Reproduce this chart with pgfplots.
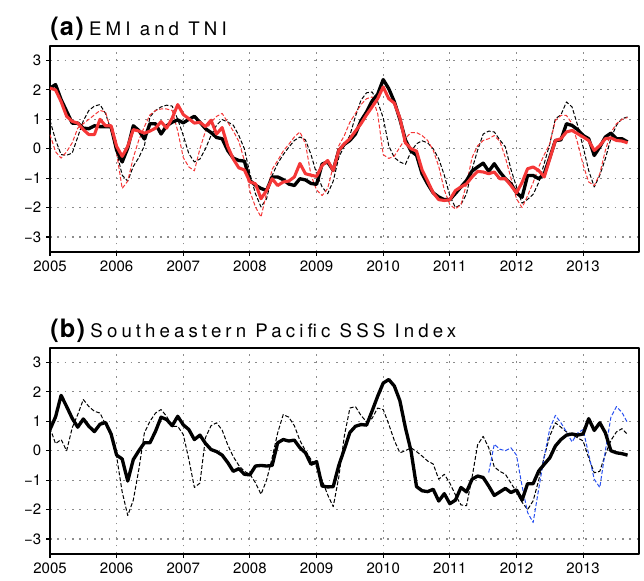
\documentclass[border=0pt]{standalone}
\usepackage{fontspec}
\setmainfont{TeX Gyre Heros}
\usepackage{pgfplots}
\pgfplotsset{compat=1.18}
\usepackage{pgfplotstable}

\definecolor{myred}{RGB}{245,55,55}
\definecolor{myblue}{RGB}{40,80,240}

\pgfplotstableread{
m a1 a2 a3 a4
0 2.06 2.06 0.96 0.48
1 2.18 2.00 0.30 -0.10
2 1.67 1.60 -0.20 -0.32
3 1.27 1.10 -0.22 -0.10
4 0.87 0.93 -0.15 0.20
5 0.87 0.87 0.40 0.70
6 0.70 0.65 0.95 0.85
7 0.68 0.48 1.30 1.00
8 0.78 0.48 1.45 1.15
9 0.75 1.00 1.50 1.30
10 0.75 0.78 1.20 1.25
11 0.75 0.78 0.62 0.60
12 -0.05 0.08 -0.10 -0.15
13 -0.45 -0.26 -0.90 -1.35
14 0.02 0.08 -1.10 -1.10
15 0.78 0.65 -0.60 -0.30
16 0.62 0.60 -0.30 0.30
17 0.33 0.53 0.10 0.75
18 0.85 0.60 1.08 1.15
19 0.85 0.70 1.30 1.30
20 0.50 0.92 1.42 1.35
21 0.78 0.70 1.48 1.35
22 0.90 1.04 1.45 1.30
23 0.98 1.50 1.00 0.60
24 0.88 1.16 0.45 -0.30
25 1.00 1.02 -0.17 -0.62
26 1.10 0.87 -0.45 -0.75
27 0.90 0.90 -0.35 0.00
28 0.68 0.75 0.00 0.60
29 0.55 0.97 0.45 0.90
30 0.38 0.50 0.80 1.10
31 0.34 0.72 0.99 1.20
32 -0.06 0.08 0.91 0.90
33 -0.32 -0.35 0.80 0.60
34 -0.40 -0.65 0.45 0.25
35 -0.42 -0.72 0.00 -0.40
36 -1.08 -1.13 -0.85 -1.45
37 -1.24 -1.19 -1.53 -1.98
38 -1.35 -1.70 -1.98 -2.32
39 -1.42 -1.42 -1.70 -1.50
40 -0.96 -1.02 -0.91 -0.70
41 -0.96 -1.25 -0.50 -0.40
42 -1.05 -1.13 -0.20 -0.08
43 -1.20 -1.10 0.05 0.15
44 -1.25 -0.96 0.28 0.40
45 -1.02 -0.50 0.40 0.57
46 -1.06 -0.85 0.30 0.17
47 -1.18 -0.90 -0.20 -0.90
48 -1.21 -0.94 -0.85 -1.40
49 -0.52 -0.57 -1.30 -1.59
50 -0.45 -0.40 -1.53 -1.35
51 -0.74 -0.74 -1.10 -0.60
52 -0.06 -0.06 -0.30 0.10
53 0.15 0.17 0.10 0.45
54 0.28 0.34 0.45 0.90
55 0.50 0.60 1.10 1.20
56 0.95 0.85 1.65 1.50
57 1.25 1.15 1.90 1.70
58 1.62 1.42 1.93 1.76
59 1.85 1.70 1.60 1.20
60 2.35 2.10 1.05 -0.20
61 2.04 1.70 0.10 -0.33
62 1.60 1.55 -0.30 -0.25
63 1.00 1.05 -0.45 0.05
64 0.30 0.20 -0.53 0.35
65 -0.08 0.00 -0.10 0.55
66 -0.22 -0.08 0.17 0.55
67 -0.85 -0.72 0.27 0.45
68 -1.20 -1.10 0.20 0.28
69 -1.50 -1.50 0.00 -0.05
70 -1.64 -1.73 -0.34 -0.60
71 -1.73 -1.76 -0.90 -1.40
72 -1.73 -1.73 -1.60 -1.90
73 -1.52 -1.42 -2.00 -2.05
74 -1.30 -1.30 -1.90 -1.90
75 -1.08 -1.19 -1.53 -1.20
76 -0.76 -0.96 -0.70 -0.30
77 -0.62 -0.77 -0.05 0.10
78 -0.49 -0.79 0.50 0.28
79 -0.77 -0.85 0.60 0.34
80 -0.51 -0.79 0.57 0.45
81 -0.79 -1.02 0.30 0.25
82 -1.02 -1.02 0.06 -0.30
83 -1.19 -1.25 -0.70 -1.00
84 -1.50 -1.50 -1.30 -1.70
85 -1.65 -1.15 -1.85 -2.00
86 -0.91 -0.68 -1.72 -1.60
87 -0.91 -0.62 -1.55 -1.15
88 -1.02 -0.74 -1.15 -0.62
89 -0.85 -0.96 -0.50 -0.20
90 -0.30 -0.34 0.17 0.17
91 0.28 0.28 1.02 0.96
92 0.30 0.34 1.15 1.13
93 0.85 0.57 1.59 1.13
94 0.79 0.62 1.42 0.85
95 0.65 0.51 0.80 0.20
96 0.45 0.40 0.06 -0.55
97 0.34 0.28 -0.74 -1.13
98 -0.23 -0.06 -1.30 -1.25
99 0.06 0.11 -0.90 -0.85
100 0.40 0.34 -0.34 -0.06
101 0.53 0.37 0.35 0.55
102 0.34 0.28 0.80 0.85
103 0.34 0.26 1.02 1.00
104 0.23 0.20 1.08 1.06
}\tabA

\pgfplotstableread{
m b1 b2 b3
0 0.72 0.78 nan
1 1.15 0.24 nan
2 1.88 0.38 nan
3 1.50 0.00 nan
4 1.10 0.78 nan
5 0.80 1.23 nan
6 1.08 1.74 nan
7 0.83 1.50 nan
8 0.65 1.34 nan
9 0.90 1.28 nan
10 0.96 0.90 nan
11 0.57 0.49 nan
12 -0.15 -0.20 nan
13 -0.28 -1.40 nan
14 -1.03 -2.20 nan
15 -0.30 -1.68 nan
16 0.00 -0.63 nan
17 0.27 0.61 nan
18 0.27 1.00 nan
19 0.66 1.28 nan
20 1.14 1.40 nan
21 1.06 1.17 nan
22 0.85 0.83 nan
23 1.17 0.83 nan
24 0.88 0.55 nan
25 0.72 -0.29 nan
26 0.38 -1.25 nan
27 0.53 -1.10 nan
28 0.25 0.45 nan
29 0.04 0.85 nan
30 -0.03 0.95 nan
31 -0.15 0.70 nan
32 -0.40 0.20 nan
33 -0.70 -0.20 nan
34 -0.61 -0.50 nan
35 -0.80 -0.70 nan
36 -0.82 -0.80 nan
37 -0.52 -1.09 nan
38 -0.50 -1.48 nan
39 -0.52 -1.00 nan
40 -0.50 -0.24 nan
41 0.27 0.61 nan
42 0.38 1.23 nan
43 0.33 1.14 nan
44 0.36 0.85 nan
45 0.10 0.35 nan
46 -0.07 0.00 nan
47 -0.46 -0.30 nan
48 -0.37 -0.55 nan
49 -1.20 -1.00 nan
50 -1.23 -1.50 nan
51 -1.22 -1.90 nan
52 -0.50 -0.90 nan
53 0.05 0.50 nan
54 0.62 1.45 nan
55 0.83 1.50 nan
56 0.89 1.20 nan
57 0.87 0.98 nan
58 1.35 1.10 nan
59 1.85 1.45 nan
60 2.30 1.40 nan
61 2.42 0.90 nan
62 2.20 0.35 nan
63 1.70 -0.07 nan
64 0.78 0.00 nan
65 0.00 0.10 nan
66 -1.22 -0.03 nan
67 -1.36 -0.18 nan
68 -1.39 -0.35 nan
69 -1.31 -0.45 nan
70 -1.71 -0.97 nan
71 -1.46 -0.80 nan
72 -1.80 -1.10 nan
73 -1.68 -1.50 nan
74 -1.25 -1.84 nan
75 -1.40 -1.87 nan
76 -0.97 -0.90 nan
77 -0.86 0.20 nan
78 -0.91 0.49 nan
79 -1.20 0.10 -0.74
80 -1.52 -0.55 0.22
81 -1.40 -0.70 0.05
82 -1.28 -0.80 0.00
83 -1.42 -1.10 0.10
84 -1.33 -1.40 -0.15
85 -1.68 -1.75 -1.20
86 -1.12 -2.00 -2.10
87 -1.12 -1.70 -2.44
88 -0.69 -1.00 -1.30
89 -0.46 -0.20 -0.20
90 -0.24 0.50 0.75
91 0.16 0.95 1.20
92 0.38 0.80 0.95
93 0.53 0.64 0.64
94 0.57 0.55 0.30
95 0.53 0.44 0.60
96 0.57 0.33 0.72
97 1.09 -0.24 -0.12
98 0.69 -0.75 -0.97
99 0.95 -0.70 -1.25
100 0.61 -0.12 0.00
101 0.00 0.35 1.14
102 -0.07 0.64 1.50
103 -0.10 0.75 1.30
104 -0.15 0.55 0.95
}\tabB

\pgfplotsset{
  panel/.style={
    scale only axis, width=441.5pt, height=154.5pt,
    xmin=2005, xmax=2013.8333, ymin=-3.5, ymax=3.5,
    xtick={2005,2006,2007,2008,2009,2010,2011,2012,2013},
    xticklabels={2005,2006,2007,2008,2009,2010,2011,2012,2013},
    ytick={-3,-2,-1,0,1,2,3},
    yticklabels={−3,−2,−1,0,1,2,3},
    /pgf/number format/assume math mode=true,
    grid=major,
    major grid style={black!45, line width=0.8pt, dash pattern=on 1.2pt off 4.3pt},
    axis line style={line width=1.5pt},
    tick style={black, line width=0.8pt},
    major tick length=3pt,
    tick align=outside,
    tick pos=left,
    ticklabel style={font=\fontsize{11.25}{13}\selectfont},
    clip mode=individual,
    line join=round,
  },
  thickblack/.style={black, line width=2.5pt},
  thickred/.style={myred, line width=2.3pt},
  thindash/.style={line width=0.75pt, dash pattern=on 3pt off 1.5pt},
}
\newcommand{\titA}{\fontsize{19}{19}\selectfont\bfseries\addfontfeature{LetterSpace=5}}
\newcommand{\titB}{\fontsize{14}{14}\selectfont\addfontfeature{LetterSpace=22}}

\begin{document}
\begin{tikzpicture}
\useasboundingbox (0,0) rectangle (483pt,-435.75pt);
\begin{axis}[panel, at={(37.5pt,-34.3pt)}, anchor=north west]
\addplot[thindash, black] table[x expr=2005+\thisrow{m}/12, y=a3] {\tabA};
\addplot[thindash, myred] table[x expr=2005+\thisrow{m}/12, y=a4] {\tabA};
\addplot[thickblack] table[x expr=2005+\thisrow{m}/12, y=a1] {\tabA};
\addplot[thickred] table[x expr=2005+\thisrow{m}/12, y=a2] {\tabA};
\node[anchor=base west, inner sep=0pt] at ([yshift=8pt]rel axis cs:0,1)
  {{\titA (a)}\hspace{4pt}{\titB EMI and TNI}};
\end{axis}
\begin{axis}[panel, at={(37.5pt,-260.8pt)}, anchor=north west]
\addplot[thindash, black] table[x expr=2005+\thisrow{m}/12, y=b2] {\tabB};
\addplot[thindash, myblue] table[x expr=2005+\thisrow{m}/12, y=b3] {\tabB};
\addplot[thickblack] table[x expr=2005+\thisrow{m}/12, y=b1] {\tabB};
\node[anchor=base west, inner sep=0pt] at ([yshift=8pt]rel axis cs:0,1)
  {{\titA (b)}\hspace{4pt}{\titB Southeastern Pacific SSS Index}};
\end{axis}
\end{tikzpicture}
\end{document}
